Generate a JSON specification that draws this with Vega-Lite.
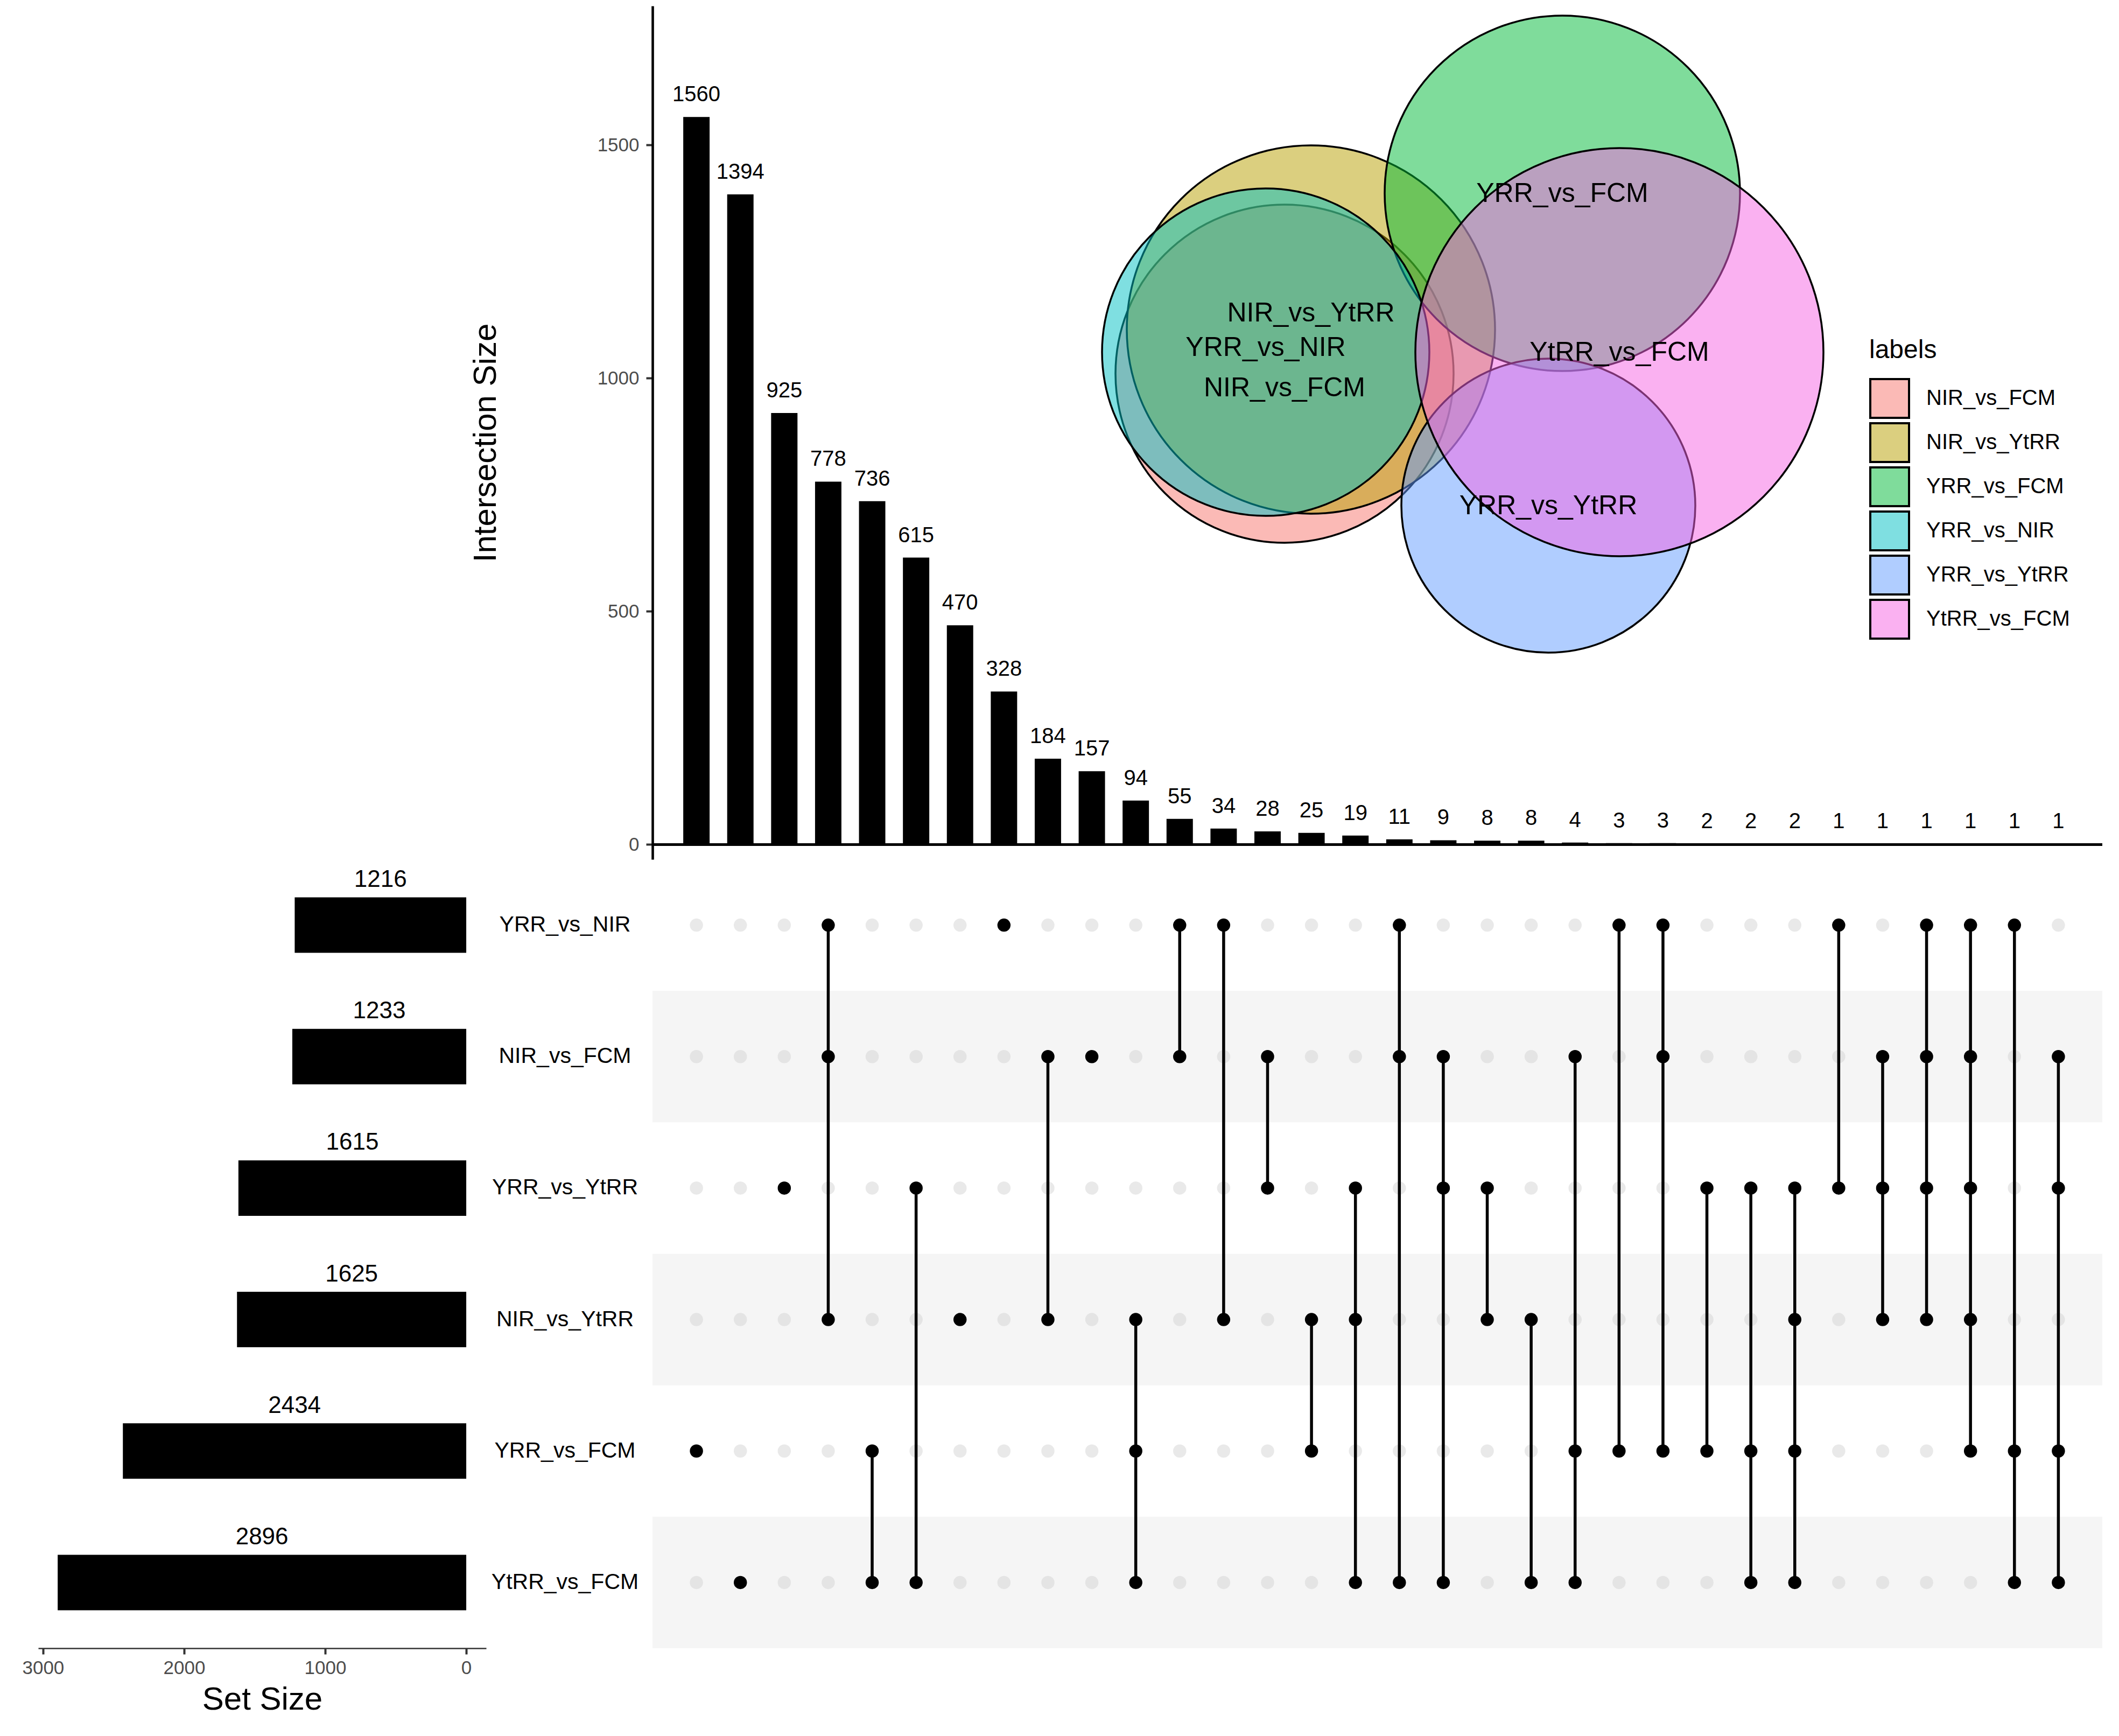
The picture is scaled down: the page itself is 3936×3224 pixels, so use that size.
{
  "$schema": "https://vega.github.io/schema/vega-lite/v6.json",
  "padding": {"left": 40, "top": 5, "right": 10, "bottom": 10},
  "background": "white",
  "config": {"view": {"stroke": null}, "font": "Liberation Sans", "axis": {"grid": false, "labelLimit": 0}, "legend": {"labelLimit": 0}},
  "datasets": {
    "inter": [
      {"c": 1, "n": 1560, "top": "YRR_vs_FCM", "bot": "YRR_vs_FCM", "YRR_vs_NIR": 0, "NIR_vs_FCM": 0, "YRR_vs_YtRR": 0, "NIR_vs_YtRR": 0, "YRR_vs_FCM": 1, "YtRR_vs_FCM": 0},
      {"c": 2, "n": 1394, "top": "YtRR_vs_FCM", "bot": "YtRR_vs_FCM", "YRR_vs_NIR": 0, "NIR_vs_FCM": 0, "YRR_vs_YtRR": 0, "NIR_vs_YtRR": 0, "YRR_vs_FCM": 0, "YtRR_vs_FCM": 1},
      {"c": 3, "n": 925, "top": "YRR_vs_YtRR", "bot": "YRR_vs_YtRR", "YRR_vs_NIR": 0, "NIR_vs_FCM": 0, "YRR_vs_YtRR": 1, "NIR_vs_YtRR": 0, "YRR_vs_FCM": 0, "YtRR_vs_FCM": 0},
      {"c": 4, "n": 778, "top": "YRR_vs_NIR", "bot": "NIR_vs_YtRR", "YRR_vs_NIR": 1, "NIR_vs_FCM": 1, "YRR_vs_YtRR": 0, "NIR_vs_YtRR": 1, "YRR_vs_FCM": 0, "YtRR_vs_FCM": 0},
      {"c": 5, "n": 736, "top": "YRR_vs_FCM", "bot": "YtRR_vs_FCM", "YRR_vs_NIR": 0, "NIR_vs_FCM": 0, "YRR_vs_YtRR": 0, "NIR_vs_YtRR": 0, "YRR_vs_FCM": 1, "YtRR_vs_FCM": 1},
      {"c": 6, "n": 615, "top": "YRR_vs_YtRR", "bot": "YtRR_vs_FCM", "YRR_vs_NIR": 0, "NIR_vs_FCM": 0, "YRR_vs_YtRR": 1, "NIR_vs_YtRR": 0, "YRR_vs_FCM": 0, "YtRR_vs_FCM": 1},
      {"c": 7, "n": 470, "top": "NIR_vs_YtRR", "bot": "NIR_vs_YtRR", "YRR_vs_NIR": 0, "NIR_vs_FCM": 0, "YRR_vs_YtRR": 0, "NIR_vs_YtRR": 1, "YRR_vs_FCM": 0, "YtRR_vs_FCM": 0},
      {"c": 8, "n": 328, "top": "YRR_vs_NIR", "bot": "YRR_vs_NIR", "YRR_vs_NIR": 1, "NIR_vs_FCM": 0, "YRR_vs_YtRR": 0, "NIR_vs_YtRR": 0, "YRR_vs_FCM": 0, "YtRR_vs_FCM": 0},
      {"c": 9, "n": 184, "top": "NIR_vs_FCM", "bot": "NIR_vs_YtRR", "YRR_vs_NIR": 0, "NIR_vs_FCM": 1, "YRR_vs_YtRR": 0, "NIR_vs_YtRR": 1, "YRR_vs_FCM": 0, "YtRR_vs_FCM": 0},
      {"c": 10, "n": 157, "top": "NIR_vs_FCM", "bot": "NIR_vs_FCM", "YRR_vs_NIR": 0, "NIR_vs_FCM": 1, "YRR_vs_YtRR": 0, "NIR_vs_YtRR": 0, "YRR_vs_FCM": 0, "YtRR_vs_FCM": 0},
      {"c": 11, "n": 94, "top": "NIR_vs_YtRR", "bot": "YtRR_vs_FCM", "YRR_vs_NIR": 0, "NIR_vs_FCM": 0, "YRR_vs_YtRR": 0, "NIR_vs_YtRR": 1, "YRR_vs_FCM": 1, "YtRR_vs_FCM": 1},
      {"c": 12, "n": 55, "top": "YRR_vs_NIR", "bot": "NIR_vs_FCM", "YRR_vs_NIR": 1, "NIR_vs_FCM": 1, "YRR_vs_YtRR": 0, "NIR_vs_YtRR": 0, "YRR_vs_FCM": 0, "YtRR_vs_FCM": 0},
      {"c": 13, "n": 34, "top": "YRR_vs_NIR", "bot": "NIR_vs_YtRR", "YRR_vs_NIR": 1, "NIR_vs_FCM": 0, "YRR_vs_YtRR": 0, "NIR_vs_YtRR": 1, "YRR_vs_FCM": 0, "YtRR_vs_FCM": 0},
      {"c": 14, "n": 28, "top": "NIR_vs_FCM", "bot": "YRR_vs_YtRR", "YRR_vs_NIR": 0, "NIR_vs_FCM": 1, "YRR_vs_YtRR": 1, "NIR_vs_YtRR": 0, "YRR_vs_FCM": 0, "YtRR_vs_FCM": 0},
      {"c": 15, "n": 25, "top": "NIR_vs_YtRR", "bot": "YRR_vs_FCM", "YRR_vs_NIR": 0, "NIR_vs_FCM": 0, "YRR_vs_YtRR": 0, "NIR_vs_YtRR": 1, "YRR_vs_FCM": 1, "YtRR_vs_FCM": 0},
      {"c": 16, "n": 19, "top": "YRR_vs_YtRR", "bot": "YtRR_vs_FCM", "YRR_vs_NIR": 0, "NIR_vs_FCM": 0, "YRR_vs_YtRR": 1, "NIR_vs_YtRR": 1, "YRR_vs_FCM": 0, "YtRR_vs_FCM": 1},
      {"c": 17, "n": 11, "top": "YRR_vs_NIR", "bot": "YtRR_vs_FCM", "YRR_vs_NIR": 1, "NIR_vs_FCM": 1, "YRR_vs_YtRR": 0, "NIR_vs_YtRR": 0, "YRR_vs_FCM": 0, "YtRR_vs_FCM": 1},
      {"c": 18, "n": 9, "top": "NIR_vs_FCM", "bot": "YtRR_vs_FCM", "YRR_vs_NIR": 0, "NIR_vs_FCM": 1, "YRR_vs_YtRR": 1, "NIR_vs_YtRR": 0, "YRR_vs_FCM": 0, "YtRR_vs_FCM": 1},
      {"c": 19, "n": 8, "top": "YRR_vs_YtRR", "bot": "NIR_vs_YtRR", "YRR_vs_NIR": 0, "NIR_vs_FCM": 0, "YRR_vs_YtRR": 1, "NIR_vs_YtRR": 1, "YRR_vs_FCM": 0, "YtRR_vs_FCM": 0},
      {"c": 20, "n": 8, "top": "NIR_vs_YtRR", "bot": "YtRR_vs_FCM", "YRR_vs_NIR": 0, "NIR_vs_FCM": 0, "YRR_vs_YtRR": 0, "NIR_vs_YtRR": 1, "YRR_vs_FCM": 0, "YtRR_vs_FCM": 1},
      {"c": 21, "n": 4, "top": "NIR_vs_FCM", "bot": "YtRR_vs_FCM", "YRR_vs_NIR": 0, "NIR_vs_FCM": 1, "YRR_vs_YtRR": 0, "NIR_vs_YtRR": 0, "YRR_vs_FCM": 1, "YtRR_vs_FCM": 1},
      {"c": 22, "n": 3, "top": "YRR_vs_NIR", "bot": "YRR_vs_FCM", "YRR_vs_NIR": 1, "NIR_vs_FCM": 0, "YRR_vs_YtRR": 0, "NIR_vs_YtRR": 0, "YRR_vs_FCM": 1, "YtRR_vs_FCM": 0},
      {"c": 23, "n": 3, "top": "YRR_vs_NIR", "bot": "YRR_vs_FCM", "YRR_vs_NIR": 1, "NIR_vs_FCM": 1, "YRR_vs_YtRR": 0, "NIR_vs_YtRR": 0, "YRR_vs_FCM": 1, "YtRR_vs_FCM": 0},
      {"c": 24, "n": 2, "top": "YRR_vs_YtRR", "bot": "YRR_vs_FCM", "YRR_vs_NIR": 0, "NIR_vs_FCM": 0, "YRR_vs_YtRR": 1, "NIR_vs_YtRR": 0, "YRR_vs_FCM": 1, "YtRR_vs_FCM": 0},
      {"c": 25, "n": 2, "top": "YRR_vs_YtRR", "bot": "YtRR_vs_FCM", "YRR_vs_NIR": 0, "NIR_vs_FCM": 0, "YRR_vs_YtRR": 1, "NIR_vs_YtRR": 0, "YRR_vs_FCM": 1, "YtRR_vs_FCM": 1},
      {"c": 26, "n": 2, "top": "YRR_vs_YtRR", "bot": "YtRR_vs_FCM", "YRR_vs_NIR": 0, "NIR_vs_FCM": 0, "YRR_vs_YtRR": 1, "NIR_vs_YtRR": 1, "YRR_vs_FCM": 1, "YtRR_vs_FCM": 1},
      {"c": 27, "n": 1, "top": "YRR_vs_NIR", "bot": "YRR_vs_YtRR", "YRR_vs_NIR": 1, "NIR_vs_FCM": 0, "YRR_vs_YtRR": 1, "NIR_vs_YtRR": 0, "YRR_vs_FCM": 0, "YtRR_vs_FCM": 0},
      {"c": 28, "n": 1, "top": "NIR_vs_FCM", "bot": "NIR_vs_YtRR", "YRR_vs_NIR": 0, "NIR_vs_FCM": 1, "YRR_vs_YtRR": 1, "NIR_vs_YtRR": 1, "YRR_vs_FCM": 0, "YtRR_vs_FCM": 0},
      {"c": 29, "n": 1, "top": "YRR_vs_NIR", "bot": "NIR_vs_YtRR", "YRR_vs_NIR": 1, "NIR_vs_FCM": 1, "YRR_vs_YtRR": 1, "NIR_vs_YtRR": 1, "YRR_vs_FCM": 0, "YtRR_vs_FCM": 0},
      {"c": 30, "n": 1, "top": "YRR_vs_NIR", "bot": "YRR_vs_FCM", "YRR_vs_NIR": 1, "NIR_vs_FCM": 1, "YRR_vs_YtRR": 1, "NIR_vs_YtRR": 1, "YRR_vs_FCM": 1, "YtRR_vs_FCM": 0},
      {"c": 31, "n": 1, "top": "YRR_vs_NIR", "bot": "YtRR_vs_FCM", "YRR_vs_NIR": 1, "NIR_vs_FCM": 0, "YRR_vs_YtRR": 0, "NIR_vs_YtRR": 0, "YRR_vs_FCM": 1, "YtRR_vs_FCM": 1},
      {"c": 32, "n": 1, "top": "NIR_vs_FCM", "bot": "YtRR_vs_FCM", "YRR_vs_NIR": 0, "NIR_vs_FCM": 1, "YRR_vs_YtRR": 1, "NIR_vs_YtRR": 0, "YRR_vs_FCM": 1, "YtRR_vs_FCM": 1}
    ],
    "sets": [
      {"set": "YRR_vs_NIR", "size": 1216},
      {"set": "NIR_vs_FCM", "size": 1233},
      {"set": "YRR_vs_YtRR", "size": 1615},
      {"set": "NIR_vs_YtRR", "size": 1625},
      {"set": "YRR_vs_FCM", "size": 2434},
      {"set": "YtRR_vs_FCM", "size": 2896}
    ],
    "venn": [
      {"label": "NIR_vs_FCM", "x": 11.74, "y": 9.02, "r": 3.14, "lx": 11.74, "ly": 8.75},
      {"label": "NIR_vs_YtRR", "x": 12.23, "y": 9.84, "r": 3.42, "lx": 12.23, "ly": 10.14},
      {"label": "YRR_vs_FCM", "x": 16.90, "y": 12.37, "r": 3.30, "lx": 16.90, "ly": 12.36},
      {"label": "YRR_vs_NIR", "x": 11.39, "y": 9.42, "r": 3.04, "lx": 11.39, "ly": 9.50},
      {"label": "YRR_vs_YtRR", "x": 16.64, "y": 6.57, "r": 2.73, "lx": 16.64, "ly": 6.56},
      {"label": "YtRR_vs_FCM", "x": 17.96, "y": 9.42, "r": 3.79, "lx": 17.96, "ly": 9.41}
    ]
  },
  "columns": 2,
  "spacing": {"row": 0, "column": 309},
  "bounds": "flush",
  "align": "each",
  "concat": [
    {
      "width": 1, "height": 1,
      "data": {"values": [{"a": 1}]},
      "mark": {"type": "text"},
      "encoding": {}
    },
    {
      "width": 2693, "height": 1585,
      "layer": [
        {
          "data": {"name": "inter"},
          "layer": [
            {
              "mark": {"type": "bar", "color": "black"},
              "encoding": {
                "x": {"field": "c", "type": "ordinal", "scale": {"type": "band", "paddingInner": 0.4, "paddingOuter": 0.7}, "axis": null},
                "y": {"field": "n", "type": "quantitative", "title": "Intersection Size",
                  "scale": {"domain": [-32, 1798], "nice": false, "zero": false},
                  "axis": {"values": [0, 500, 1000, 1500], "format": "d", "domainColor": "black", "domainWidth": 4.6,
                    "tickColor": "#333333", "tickWidth": 4, "tickSize": 12, "labelPadding": 13, "labelFontSize": 35,
                    "labelColor": "#4D4D4D", "titleFontSize": 60, "titleFontWeight": "normal", "titleColor": "black",
                    "titlePadding": 176, "titleY": 811, "grid": false}}
              }
            },
            {
              "mark": {"type": "text", "dy": -29, "baseline": "alphabetic", "fontSize": 40, "color": "black"},
              "encoding": {
                "x": {"field": "c", "type": "ordinal", "scale": {"type": "band", "paddingInner": 0.4, "paddingOuter": 0.7}, "axis": null},
                "y": {"field": "n", "type": "quantitative", "title": "Intersection Size", "scale": {"domain": [-32, 1798], "nice": false, "zero": false}},
                "text": {"field": "n", "type": "quantitative", "format": "d"}
              }
            },
            {
              "mark": {"type": "rule", "color": "black", "strokeWidth": 4.6},
              "encoding": {"y": {"datum": 0}}
            }
          ]
        },
        {
          "data": {"name": "venn"},
          "layer": [
            {
              "mark": {"type": "point", "shape": "circle", "filled": true, "fillOpacity": 1, "stroke": "black", "strokeWidth": 3.5, "strokeOpacity": 1, "opacity": 1},
              "encoding": {
                "x": {"field": "x", "type": "quantitative", "scale": {"domain": [0, 26.93], "nice": false, "zero": false}, "axis": null},
                "y": {"field": "y", "type": "quantitative", "scale": {"domain": [0, 15.85], "nice": false, "zero": false}, "axis": null},
                "size": {"field": "r", "type": "quantitative", "scale": {"type": "pow", "exponent": 2, "domain": [0, 1], "range": [0, 40000]}, "legend": null},
                "fill": {"field": "label", "type": "nominal",
                  "scale": {"domain": ["NIR_vs_FCM", "NIR_vs_YtRR", "YRR_vs_FCM", "YRR_vs_NIR", "YRR_vs_YtRR", "YtRR_vs_FCM"],
                            "range": ["#F8766D80", "#B79F0080", "#00BA3880", "#00BFC480", "#619CFF80", "#F564E380"]},
                  "legend": {"title": "labels", "orient": "none", "legendX": 3401, "legendY": 616,
                    "titleFontSize": 48, "titleFontWeight": "normal", "titleColor": "black", "titlePadding": 27,
                    "labelFontSize": 40, "labelColor": "black", "labelOffset": 30, "labelLimit": 0,
                    "symbolType": "square", "symbolSize": 5184, "symbolStrokeColor": "black", "symbolStrokeWidth": 4,
                    "symbolOpacity": 1, "rowPadding": -17}
                },
                "order": {"field": "label", "type": "ordinal"}
              }
            },
            {
              "mark": {"type": "text", "fontSize": 50, "color": "black", "baseline": "middle", "align": "center"},
              "encoding": {
                "x": {"field": "lx", "type": "quantitative", "scale": {"domain": [0, 26.93], "nice": false, "zero": false}, "axis": null},
                "y": {"field": "ly", "type": "quantitative", "scale": {"domain": [0, 15.85], "nice": false, "zero": false}, "axis": null},
                "text": {"field": "label", "type": "nominal"}
              }
            }
          ]
        }
      ],
      "resolve": {"scale": {"x": "independent", "y": "independent"}}
    },
    {
      "width": 832, "height": 1465,
      "data": {"name": "sets"},
      "layer": [
        {
          "mark": {"type": "bar", "color": "black"},
          "encoding": {
            "y": {"field": "set", "type": "nominal", "scale": {"domain": ["YRR_vs_NIR", "NIR_vs_FCM", "YRR_vs_YtRR", "NIR_vs_YtRR", "YRR_vs_FCM", "YtRR_vs_FCM"], "paddingInner": 0.578, "paddingOuter": 0.289}, "axis": null},
            "x": {"field": "size", "type": "quantitative", "title": "Set Size",
              "scale": {"domain": [-141, 3034], "reverse": true, "nice": false, "zero": false},
              "axis": {"values": [0, 1000, 2000, 3000], "format": "d", "domainColor": "#333333", "domainWidth": 2.5,
                "tickColor": "#333333", "tickWidth": 4, "tickSize": 11, "labelPadding": 8, "labelFontSize": 35,
                "labelColor": "#4D4D4D", "titleFontSize": 60, "titleFontWeight": "normal", "titleColor": "black",
                "titlePadding": 12, "grid": false}}
          }
        },
        {
          "mark": {"type": "text", "dy": -71, "baseline": "alphabetic", "fontSize": 44, "color": "black"},
          "encoding": {
            "y": {"field": "set", "type": "nominal", "scale": {"domain": ["YRR_vs_NIR", "NIR_vs_FCM", "YRR_vs_YtRR", "NIR_vs_YtRR", "YRR_vs_FCM", "YtRR_vs_FCM"], "paddingInner": 0.578, "paddingOuter": 0.289}, "axis": null},
            "x": {"field": "size", "type": "quantitative", "scale": {"domain": [-282, 6068], "reverse": true, "nice": false, "zero": false}, "axis": null},
            "text": {"field": "size", "type": "quantitative", "format": "d"}
          }
        }
      ],
      "resolve": {"scale": {"x": "independent"}}
    },
    {
      "width": 2693, "height": 1465,
      "layer": [
        {
          "data": {"name": "sets"},
          "transform": [{"filter": {"field": "set", "oneOf": ["NIR_vs_FCM", "NIR_vs_YtRR", "YtRR_vs_FCM"]}}],
          "mark": {"type": "rect", "color": "#F5F5F5"},
          "encoding": {
            "y": {"field": "set", "type": "nominal", "title": null,
              "scale": {"type": "band", "domain": ["YRR_vs_NIR", "NIR_vs_FCM", "YRR_vs_YtRR", "NIR_vs_YtRR", "YRR_vs_FCM", "YtRR_vs_FCM"], "paddingInner": 0, "paddingOuter": 0},
              "axis": {"domain": false, "ticks": false, "tickSize": 0, "labelPadding": 163, "labelAlign": "center", "labelBaseline": "middle", "labelFontSize": 41, "labelColor": "black", "labelLimit": 0}}
          }
        },
        {
          "data": {"name": "inter"},
          "transform": [
            {"fold": ["YRR_vs_NIR", "NIR_vs_FCM", "YRR_vs_YtRR", "NIR_vs_YtRR", "YRR_vs_FCM", "YtRR_vs_FCM"], "as": ["set", "member"]},
            {"filter": "datum.member == 0"}
          ],
          "mark": {"type": "point", "shape": "circle", "filled": true, "size": 600, "color": "#D4D4D4", "opacity": 0.5},
          "encoding": {
            "x": {"field": "c", "type": "ordinal", "scale": {"type": "band", "paddingInner": 0.4, "paddingOuter": 0.7}, "axis": null},
            "y": {"field": "set", "type": "nominal", "title": null}
          }
        },
        {
          "data": {"name": "inter"},
          "mark": {"type": "rule", "color": "black", "strokeWidth": 5.5},
          "encoding": {
            "x": {"field": "c", "type": "ordinal", "scale": {"type": "band", "paddingInner": 0.4, "paddingOuter": 0.7}, "axis": null},
            "y": {"field": "top", "type": "nominal", "title": null},
            "y2": {"field": "bot"}
          }
        },
        {
          "data": {"name": "inter"},
          "transform": [
            {"fold": ["YRR_vs_NIR", "NIR_vs_FCM", "YRR_vs_YtRR", "NIR_vs_YtRR", "YRR_vs_FCM", "YtRR_vs_FCM"], "as": ["set", "member"]},
            {"filter": "datum.member == 1"}
          ],
          "mark": {"type": "point", "shape": "circle", "filled": true, "size": 600, "color": "black", "opacity": 1},
          "encoding": {
            "x": {"field": "c", "type": "ordinal", "scale": {"type": "band", "paddingInner": 0.4, "paddingOuter": 0.7}, "axis": null},
            "y": {"field": "set", "type": "nominal", "title": null}
          }
        }
      ]
    }
  ]
}
